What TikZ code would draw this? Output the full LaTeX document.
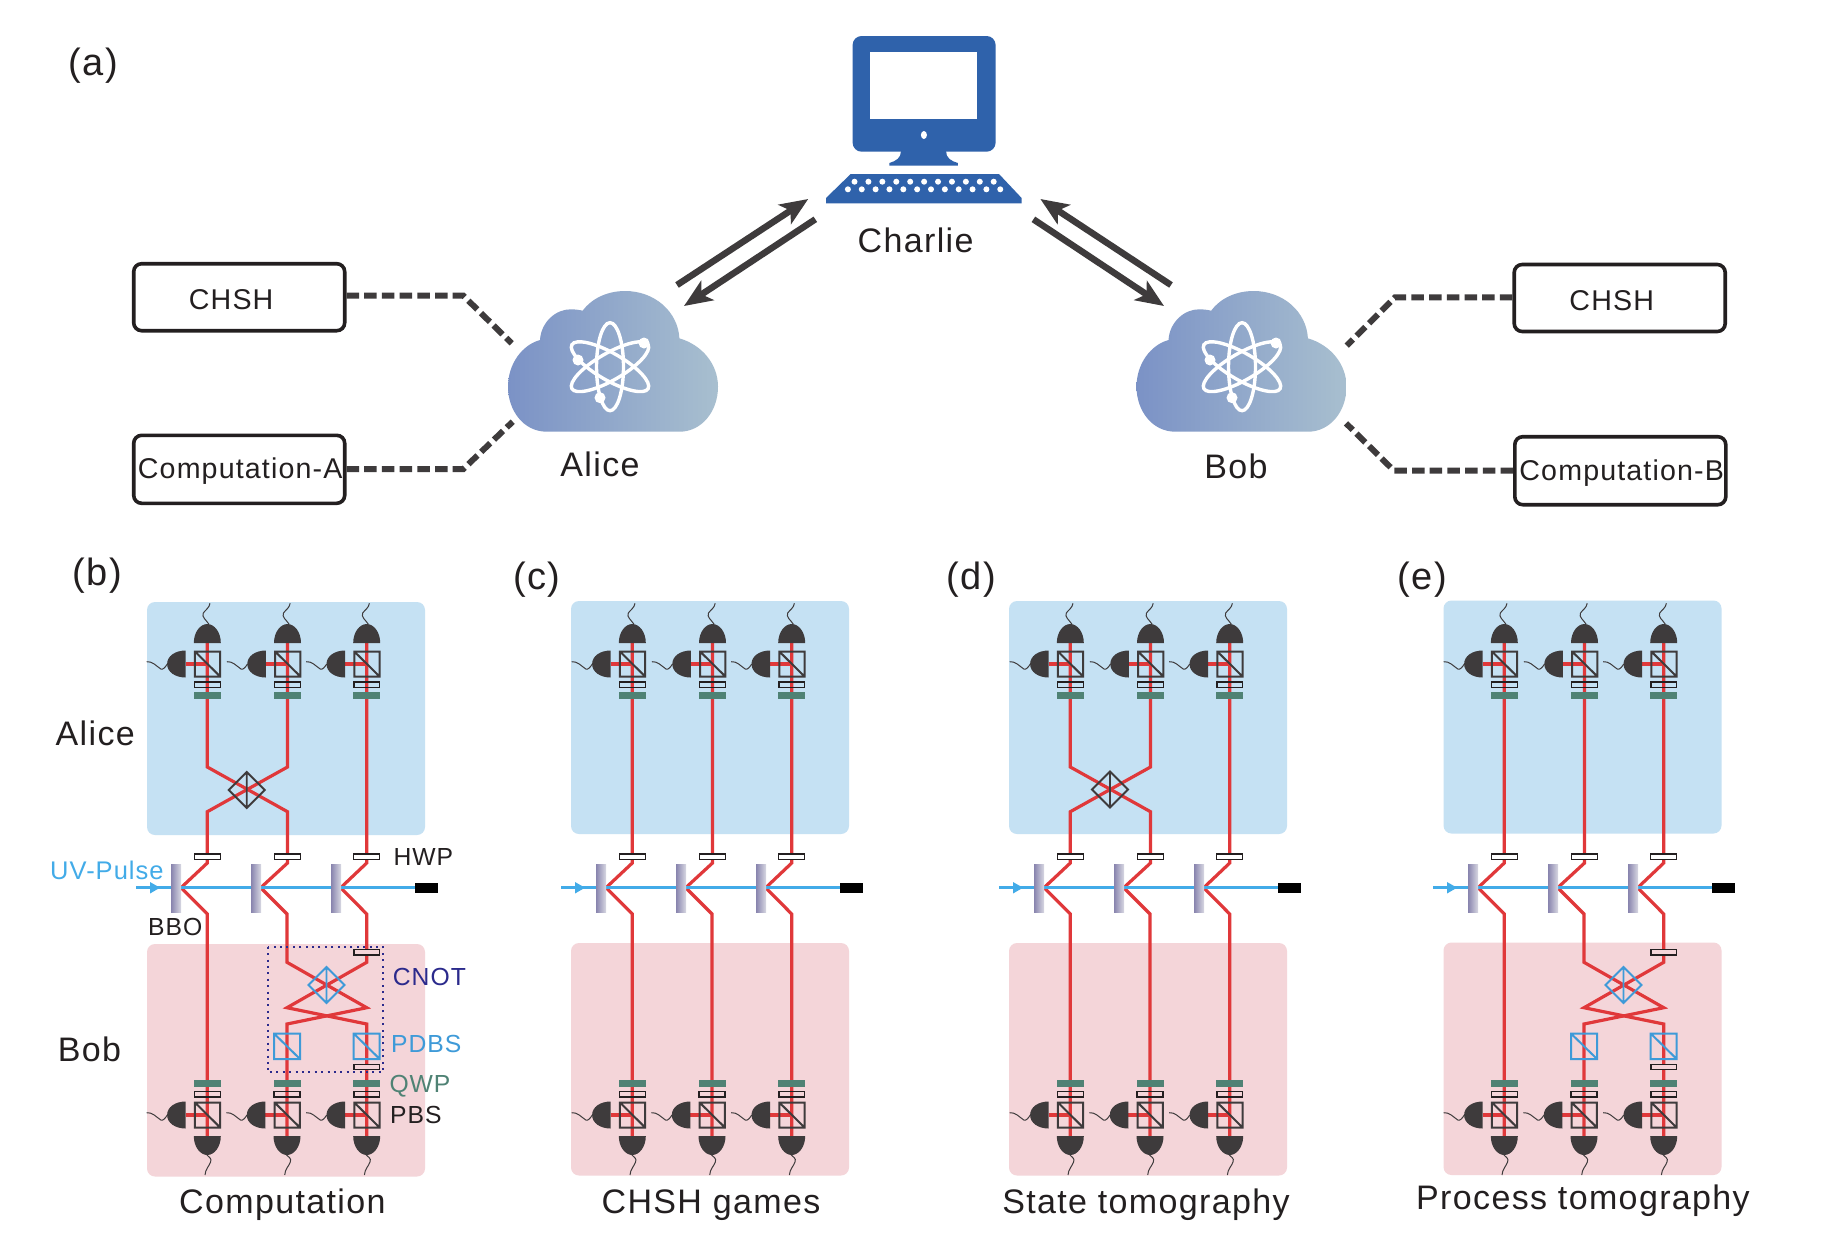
\documentclass[tikz,border=0pt]{standalone}
\usepackage{fontspec}
\setmainfont{Liberation Sans}
\newfontfamily\lsfont[LetterSpace=4]{Liberation Sans}
\usetikzlibrary{arrows.meta}
\definecolor{txt}{HTML}{231F20}
\definecolor{dk}{HTML}{3E3B3C}
\definecolor{beamred}{HTML}{E0383A}
\definecolor{uvblue}{HTML}{42ABE8}
\definecolor{pdbsblue}{HTML}{3E9AD8}
\definecolor{qwpgreen}{HTML}{4F8274}
\definecolor{navy}{HTML}{2B2A8C}
\definecolor{panelblue}{HTML}{C5E1F3}
\definecolor{panelpink}{HTML}{F4D5D9}
\definecolor{pcblue}{HTML}{2F62AB}
\definecolor{cloudL}{HTML}{7B92C6}
\definecolor{cloudR}{HTML}{A8BFCF}
\definecolor{bboL}{HTML}{8884AE}
\definecolor{bboR}{HTML}{D8D8E2}
\tikzset{
  lab/.style={inner sep=0pt,anchor=base west,text=txt,font=\lsfont\fontsize{24.7}{26}\selectfont},
  big/.style={inner sep=0pt,anchor=base,text=txt,font=\lsfont\fontsize{34}{36}\selectfont},
  captxt/.style={inner sep=0pt,anchor=base,text=txt,font=\lsfont\fontsize{34}{36}\selectfont},
  tagtxt/.style={inner sep=0pt,anchor=base,text=txt,font=\lsfont\fontsize{38}{40}\selectfont},
  taskbox/.style={draw=txt,line width=3.6pt,rounded corners=8pt,minimum width=211pt,inner sep=0pt,
    text=txt,font=\lsfont\fontsize{28.6}{30}\selectfont,text depth=0pt},
  dashline/.style={draw=dk,line width=6pt,dash pattern=on 12.5pt off 5.2pt},
  linkarrow/.style={draw=dk,line width=6.5pt,-{Stealth[length=28pt,width=23pt,inset=7pt]}},
  beam/.style={draw=beamred,line width=3.2pt,line join=miter},
  uv/.style={draw=uvblue,line width=3pt},
  wire/.style={draw=dk,line width=1pt},
  cube/.style={draw=dk,line width=2pt},
  hwpdark/.style={draw=txt,line width=1.5pt},
  qwpbar/.style={fill=qwpgreen},
  dome/.style={fill=dk},
}
\newcommand{\upstack}[1]{\begin{scope}[shift={(#1,0)}]
  \draw[beam] (-21.6,664) -- (0,664);
  \fill[dome] (-13.5,643) .. controls (-13.5,632) and (-7,624) .. (0,624) .. controls (7,624) and (13.5,632) .. (13.5,643) -- cycle;
  \draw[wire] (1.7,624.3) .. controls (-1,620) and (-6,617) .. (-4,613) .. controls (-2,610) and (2,608) .. (2.7,603.3);
  \fill[dome] (-21.6,650.5) .. controls (-32,650.5) and (-40.2,656) .. (-40.2,664) .. controls (-40.2,672) and (-32,677.5) .. (-21.6,677.5) -- cycle;
  \draw[wire] (-60.6,661.7) .. controls (-55,661) and (-51,666) .. (-46.5,669) .. controls (-44,670) and (-42,667) .. (-40,664);
  \draw[cube] (-12.4,651.5) rectangle (12.9,676.5) (-12.4,651.5) -- (12.9,676.5);
  \draw[hwpdark] (-12.9,682) rectangle (13,687.3);
  \fill[qwpbar] (-13.5,692) rectangle (13.5,698.7);
\end{scope}}
\newcommand{\lowstack}[1]{\begin{scope}[shift={(#1,0)}]
  \draw[beam] (-21.6,1115) -- (0,1115);
  \fill[dome] (-13.5,1136) .. controls (-13.5,1147) and (-7,1155) .. (0,1155) .. controls (7,1155) and (13.5,1147) .. (13.5,1136) -- cycle;
  \draw[wire] (-1.3,1154) .. controls (1,1157) and (5,1158) .. (3.3,1162) .. controls (2,1166) and (-2,1169) .. (-2.3,1175);
  \fill[dome] (-21.6,1101.5) .. controls (-32,1101.5) and (-40.2,1107) .. (-40.2,1115) .. controls (-40.2,1123) and (-32,1128.5) .. (-21.6,1128.5) -- cycle;
  \draw[wire] (-60.6,1112.7) .. controls (-55,1112) and (-51,1117) .. (-46.5,1120) .. controls (-44,1121) and (-42,1118) .. (-40,1115);
  \draw[cube] (-12.4,1102.5) rectangle (12.9,1127.5) (-12.4,1102.5) -- (12.9,1127.5);
  \draw[hwpdark] (-12.9,1091.5) rectangle (13,1097);
  \fill[qwpbar] (-13.5,1080) rectangle (13.5,1086.5);
\end{scope}}
% common parts of one setup; #1 name prefix
\newcommand{\setup}[1]{
  \coordinate (#1t1) at (207.3,643); \coordinate (#1t2) at (287.5,643); \coordinate (#1t3) at (366.7,643);
  \coordinate (#1s1) at (181,887.7); \coordinate (#1s2) at (260.7,887.7); \coordinate (#1s3) at (340.7,887.7);
  \coordinate (#1l1) at (207.3,1136); \coordinate (#1l2) at (287,1136); \coordinate (#1l3) at (366.7,1136);
}
\newcommand{\backs}[1]{
  \fill[panelblue,rounded corners=8pt,#1] (147,602) rectangle (425,835);
  \fill[panelpink,rounded corners=8pt,#1] (147,944) rectangle (425,1176.5);
}
\newcommand{\topstraight}[1]{
  \draw[beam] (#1t1) -- (207.3,863) -- (#1s1);
  \draw[beam] (#1t2) -- (287.5,863) -- (#1s2);
}
\newcommand{\topcross}[1]{
  \draw[beam] (#1t1) -- (207.3,767) -- (287.5,811.7) -- (287.5,863) -- (#1s2);
  \draw[beam] (#1t2) -- (287.5,767) -- (207.3,811.7) -- (207.3,863) -- (#1s1);
}
\newcommand{\lowstraight}[1]{
  \draw[beam] (#1s2) -- (287,914) -- (#1l2);
  \draw[beam] (#1s3) -- (366.7,914) -- (#1l3);
}
\newcommand{\lowcross}[1]{
  \draw[beam] (#1s2) -- (287,914) -- (287,962.3) -- (366.7,1007.7) -- (287,1024) -- (#1l2);
  \draw[beam] (#1s3) -- (366.7,914) -- (366.7,962.3) -- (287,1007.7) -- (366.7,1024) -- (#1l3);
}
\newcommand{\common}[1]{
  \draw[beam] (#1t3) -- (366.7,863) -- (#1s3);
  \draw[beam] (#1s1) -- (207.3,914) -- (#1l1);
  \coordinate (#1uvs) at (136,887.7); \coordinate (#1uve) at (415,887.7);
  \draw[uv] (#1uvs) -- (#1uve);
  \fill[uvblue] (150,882) -- (160,887.7) -- (150,893.5) -- cycle;
  \fill[black] (415,882.5) rectangle (438,893);
  \foreach \bx in {171,251,331} {
    \shade[left color=bboL,right color=bboR] (\bx,864) rectangle (\bx+10,912.5);
  }
  \foreach \hx in {207.3,287.5,366.7} {
    \draw[hwpdark,fill=white] (\hx-13,854) rectangle (\hx+13,859.5);
    \upstack{\hx}
  }
  \foreach \lx in {207.3,287,366.7} { \lowstack{\lx} }
}
\newcommand{\bsplit}[3]{%
  \draw[draw=#3,line width=1.9pt] (#1-18,#2) -- (#1,#2-18) -- (#1+18,#2) -- (#1,#2+18) -- cycle (#1,#2-18) -- (#1,#2+18);
}
\newcommand{\cnotparts}{
  \bsplit{326.5}{985}{pdbsblue}
  \foreach \cx in {287,366.7} {
    \draw[draw=pdbsblue,line width=2pt] (\cx-13,1033.5) rectangle (\cx+13,1059) (\cx-13,1033.5) -- (\cx+13,1059);
  }
  \draw[hwpdark,fill=panelpink] (354,949.5) rectangle (379.5,955);
  \draw[hwpdark,fill=panelpink] (354,1064.5) rectangle (379.5,1069.7);
}
\newcommand{\cloudatom}[1]{
  \shade[left color=cloudL,right color=cloudR] (547,431.7) .. controls (523,431.7) and (508,410) .. (508,386.7) .. controls (508,364) and (522,345) .. (540,340) .. controls (541,322) and (556,309) .. (571,309.3) .. controls (575,309.3) and (580,310) .. (582.6,310.7) .. controls (592,298) and (608,291) .. (625,291) .. controls (655,291) and (678,312) .. (679.4,338.3) .. controls (702,345) and (718,364) .. (718,386.7) .. controls (718,411) and (702,431.7) .. (679.4,431.7) -- cycle;
  \begin{scope}[xshift=#1]
  \foreach \a in {0,60,120} {
    \draw[white,line width=3.4pt,rotate around={\a:(610,366.7)}] (610,366.7) ellipse (13.5 and 44);
  }
  \fill[white] (578,360) circle (5.5) (644,343) circle (5.5) (600,397.7) circle (5.5);
  \end{scope}
}
\begin{document}
\begin{tikzpicture}[x=1pt,y=-1pt]
\useasboundingbox (0,0) rectangle (1822,1240);
\fill[white] (0,0) rectangle (1822,1240);

% ---------- computer
\fill[pcblue,rounded corners=9pt] (852.6,36) rectangle (995.6,151.7);
\fill[white] (869.6,52.3) rectangle (977.2,119.3);
\fill[white] (923.9,135) ellipse (3 and 4);
\fill[pcblue] (901,151) .. controls (901,158) and (896,161) .. (889.4,163) -- (889.4,165.7) -- (957.8,165.7) -- (957.8,163) .. controls (951,161) and (946,158) .. (946,151) -- cycle;
\fill[pcblue] (850.7,174) -- (999,174) -- (1021.6,198) -- (1021.6,203.3) -- (826,203.3) -- (826,198) -- cycle;
\foreach \i in {0,...,10} { \fill[white] (854.5+\i*13.92,181.7) circle (3); }
\foreach \i in {0,...,11} { \fill[white] (847.9+\i*13.85,189.3) circle (3); }
\node[big,anchor=base west] (charlie) at (857.5,252.7) {Charlie};

% ---------- clouds
\cloudatom{0pt}
\begin{scope}[xshift=628.5pt] \cloudatom{3.5pt} \end{scope}
\node[big] (alice) at (600,476) {Alice};
\node[big] (bob) at (1236,478.5) {Bob};

% ---------- arrows
\coordinate (a1s) at (677,285); \coordinate (a1e) at (808.2,199);
\coordinate (a2s) at (815.3,219.3); \coordinate (a2e) at (684,306);
\coordinate (a3s) at (1171,285); \coordinate (a3e) at (1040.4,199);
\coordinate (a4s) at (1033.4,219.3); \coordinate (a4e) at (1164,306);
\draw[linkarrow] (a1s) -- (a1e);
\draw[linkarrow] (a2s) -- (a2e);
\draw[linkarrow] (a3s) -- (a3e);
\draw[linkarrow] (a4s) -- (a4e);

% ---------- task boxes
\node[taskbox,minimum height=67pt,text height=23.6pt] (chshA) at (239.2,297.2) {\hspace*{-16pt}CHSH};
\node[taskbox,minimum height=68pt,text height=18pt] (compA) at (239.2,469.3) {\hspace*{2pt}Computation-A};
\node[taskbox,minimum height=67pt,text height=24pt] (chshB) at (1619.7,298) {\hspace*{-16pt}CHSH};
\node[taskbox,minimum height=68pt,text height=18.6pt] (compB) at (1620.3,470.7) {\hspace*{2.8pt}Computation-B};
\coordinate (d1a) at (463.3,295.7); \coordinate (d1b) at (511.7,343.3);
\coordinate (d2a) at (463.3,469); \coordinate (d2b) at (512.7,421.7);
\coordinate (d3a) at (1395,297.3); \coordinate (d3b) at (1346.7,345.7);
\coordinate (d4a) at (1394,470.7); \coordinate (d4b) at (1346,423.3);
\draw[dashline] (chshA.east |- d1a) -- (d1a) -- (d1b);
\draw[dashline] (compA.east |- d2a) -- (d2a) -- (d2b);
\draw[dashline] (chshB.west |- d3a) -- (d3a) -- (d3b);
\draw[dashline] (compB.west |- d4a) -- (d4a) -- (d4b);

% ---------- tags
\node[tagtxt] (taga) at (93,75.5) {(a)};
\node[tagtxt] (tagb) at (97.6,585.5) {(b)};
\node[tagtxt] (tagc) at (537,589) {(c)};
\node[tagtxt] (tagd) at (971.5,589) {(d)};
\node[tagtxt] (tage) at (1422,589) {(e)};
\node[big] (lalice) at (95.3,745) {Alice};
\node[big] (lbob) at (89.5,1061.5) {Bob};

% ---------- panel b
\begin{scope}
  \setup{b}
  \backs{}
  \topcross{b} \lowcross{b}
  \common{b}
  \bsplit{246.7}{790}{dk}
  \cnotparts
  \draw[navy,line width=2pt,dash pattern=on 2pt off 4.4pt] (267.5,946.7) rectangle (382.7,1072.3);
\end{scope}
% ---------- panel c
\begin{scope}[xshift=425pt]
  \setup{c}
  \backs{xshift=-1pt,yshift=1pt}
  \topstraight{c} \lowstraight{c}
  \common{c}
\end{scope}
% ---------- panel d
\begin{scope}[xshift=863pt]
  \setup{d}
  \backs{xshift=-1pt,yshift=1pt}
  \topcross{d} \lowstraight{d}
  \common{d}
  \bsplit{247}{789.5}{dk}
\end{scope}
% ---------- panel e
\begin{scope}[xshift=1297pt]
  \setup{e}
  \backs{xshift=-.5pt,yshift=1.5pt}
  \topstraight{e} \lowcross{e}
  \common{e}
  \cnotparts
\end{scope}

% ---------- labels
\node[lab,text=uvblue,font=\lsfont\fontsize{25.5}{27}\selectfont] (uvlabel) at (50,879.3) {UV-Pulse};
\node[lab] (hwplabel) at (393.3,865) {HWP};
\node[lab] (bbolabel) at (148,935) {BBO};
\node[lab,text=navy] (cnotlabel) at (392.7,985.7) {CNOT};
\node[lab,text=pdbsblue] (pdbslabel) at (391,1052.7) {PDBS};
\node[lab,text=qwpgreen] (qwplabel) at (389.3,1092.7) {QWP};
\node[lab] (pbslabel) at (390,1123.3) {PBS};
\node[captxt] (capb) at (282.4,1213) {Computation};
\node[captxt] (capc) at (711,1213) {CHSH games};
\node[captxt] (capd) at (1146,1213) {State tomography};
\node[captxt] (cape) at (1583,1209.7) {Process tomography};
\end{tikzpicture}
\end{document}
